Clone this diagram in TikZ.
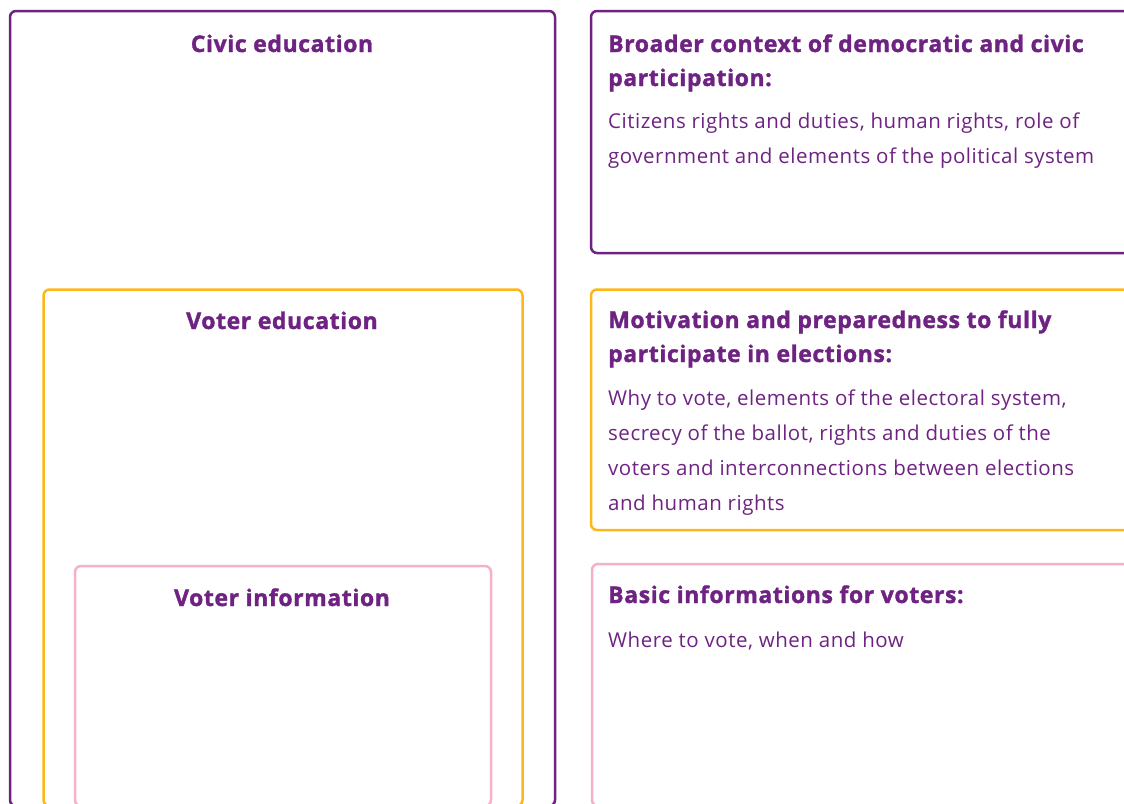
\documentclass[tikz,border=0pt]{standalone}
\usepackage{fontspec}
\setmainfont{Open Sans}[LetterSpace=2.5, BoldFeatures={FakeBold=1.5}]
\definecolor{civic}{HTML}{6E2382}
\definecolor{voteredu}{HTML}{FDB71A}
\definecolor{voterinfo}{HTML}{F5B0CA}
\tikzset{
  frame/.style={line width=2.5pt, rounded corners=6pt},
  lefthead/.style={font=\fontsize{23pt}{34pt}\selectfont\bfseries, text=civic, inner sep=0pt, anchor=base},
  righthead/.style={font=\fontsize{23pt}{34pt}\selectfont\bfseries, text=civic, inner sep=0pt, anchor=base west},
  rightbody/.style={font=\fontsize{20.5pt}{35pt}\selectfont, text=civic, inner sep=0pt, anchor=base west}
}
\begin{document}
\begin{tikzpicture}[x=1pt, y=-1pt]
  \useasboundingbox (0,0) rectangle (1124,803);
  \clip (0,0) rectangle (1124,803);
  % left: nested boxes
  \draw[frame, civic] (10,11) rectangle (555,806);
  \draw[frame, voteredu] (43.5,289.5) rectangle (522.5,806);
  \draw[frame, voterinfo] (75,566) rectangle (491,806);
  \node[lefthead] (civichead) at (282,52) {Civic education};
  \node[lefthead] (voteredhead) at (282,329) {Voter education};
  \node[lefthead] (voterinfohead) at (282,606) {Voter information};
  % right: descriptions
  \draw[frame, civic] (591,11) rectangle (1150,253);
  \draw[frame, voteredu] (591,289.5) rectangle (1150,530);
  \draw[frame, voterinfo] (592,564) rectangle (1150,806);
  \node[righthead] (ctxhead) at (608,52)
    {\parbox[t]{520pt}{Broader context of democratic and civic\\participation:}};
  \node[rightbody] (ctxbody) at (608,128)
    {\parbox[t]{520pt}{Citizens rights and duties, human rights, role of\\government and elements of the political system}};
  \node[righthead] (motivhead) at (608,328)
    {\parbox[t]{520pt}{Motivation and preparedness to fully\\participate in elections:}};
  \node[rightbody] (motivbody) at (608,405)
    {\parbox[t]{520pt}{Why to vote, elements of the electoral system,\\secrecy of the ballot, rights and duties of the\\voters and interconnections between elections\\and human rights}};
  \node[righthead] (basichead) at (608,603) {Basic informations for voters:};
  \node[rightbody] (basicbody) at (608,647) {Where to vote, when and how};
\end{tikzpicture}
\end{document}
